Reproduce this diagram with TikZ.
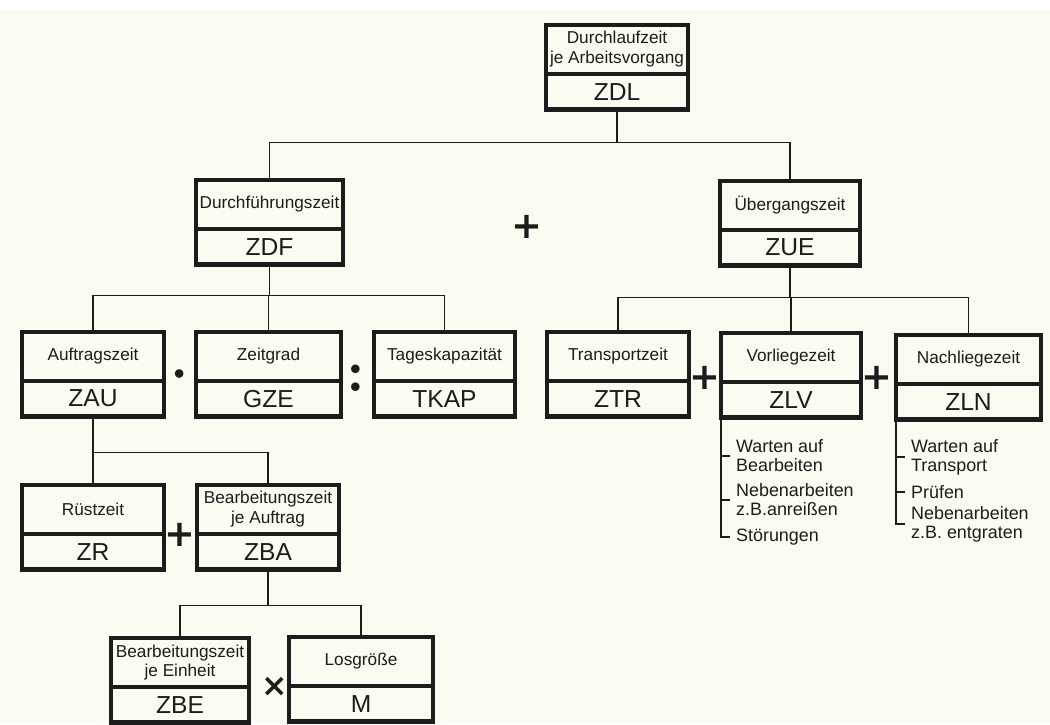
\documentclass[tikz,border=0pt]{standalone}
\usepackage{fontspec}
\setmainfont{Liberation Sans}
\newfontfamily\opfont{DejaVu Sans}
\newfontfamily\dotfont{Latin Modern Roman}
\usepackage{tikz}
\usetikzlibrary{positioning}
\definecolor{paper}{RGB}{252,251,241}
\definecolor{ink}{RGB}{28,28,28}

\begin{document}
\begin{tikzpicture}[x=0.02cm, y=-0.02cm, line width=1pt, color=ink]
    \tikzset{lab/.style={
      draw, rectangle, anchor=north, inner sep=1pt,
      minimum height=0.94cm, align=center,
      font=\fontsize{9.8}{11.2}\selectfont}}
    \tikzset{code/.style={draw, rectangle, inner sep=1pt,
      minimum height=0.68cm, font=\fontsize{14}{14}\selectfont}}
    \tikzset{frame/.style={line width=2.3pt}}
    \tikzset{item/.style={anchor=west, align=left, inner xsep=3pt,
      inner ysep=0pt, font=\fontsize{10.2}{10.8}\selectfont}}
    \tikzset{op/.style={font=\opfont\bfseries\fontsize{21}{21}\selectfont}}
    \tikzset{dots/.style={font=\dotfont\bfseries\fontsize{34}{34}\selectfont}}

    % Paper
    \useasboundingbox (0, 0) rectangle (1050, 724);
    \fill [white] (0, 0) rectangle (1050, 724);
    \fill [paper] (0, 10) rectangle (1050, 724);

    % Boxes: name/x/top/width/label/code
    \foreach \n/\x/\y/\w/\l/\c in {%
        zdl/617/25/140/{Durchlaufzeit\\je Arbeitsvorgang}/ZDL,%
        zdf/269.5/180/145/Durchführungszeit/ZDF,%
        zue/790/181/139/Übergangszeit/ZUE,%
        zau/93/332/140/Auftragszeit/ZAU,%
        gze/268.5/332/143/Zeitgrad/GZE,%
        tkap/444.5/332/139/Tageskapazität/TKAP,%
        ztr/618/332/140/Transportzeit/ZTR,%
        zlv/791/333/138/Vorliegezeit/ZLV,%
        zln/968.5/335/143/Nachliegezeit/ZLN,%
        zr/93/485/141/Rüstzeit/ZR,%
        zba/268/485/141/{Bearbeitungszeit\\je Auftrag}/ZBA,%
        zbe/180/638/136/{Bearbeitungszeit\\je Einheit}/ZBE,%
        m/361/637/142/Losgröße/M%
        } {
      \node [lab, minimum width={\w*0.02cm}] (\n) at (\x, \y) {\l};
      \node [code, minimum width={\w*0.02cm}, below=0pt of \n] (\n-c) {\c};
      \draw [frame] (\n.north west) rectangle (\n-c.south east);
    }

    % Operators
    \node [op] (plus1) at (527, 227) {+};
    \node [dots] (dot1) at (180, 382) {·};
    \node [dots] (colon1) at (356, 378) {:};
    \node [op] (plus2) at (705, 378) {+};
    \node [op] (plus3) at (877, 378) {+};
    \node [op] (plus4) at (180, 535) {+};
    \node [op, font=\opfont\bfseries\fontsize{18}{18}\selectfont]
          (times1) at (275, 687) {×};

    % Lists
    \node [item] (lv1) at (730, 456) {Warten auf\\Bearbeiten};
    \node [item] (lv2) at (730, 500) {Nebenarbeiten\\z.B.anreißen};
    \node [item] (lv3) at (730, 537) {Störungen};
    \node [item] (ln1) at (905, 457) {Warten auf\\Transport};
    \node [item] (ln2) at (905, 492) {Prüfen};
    \node [item] (ln3) at (905, 524) {Nebenarbeiten\\z.B. entgraten};

    % Edges
    \draw (zdl-c.south) -- ++(0, 33) coordinate (b1);
    \draw (zdf.north) |- (b1) -| (zue.north);
    \draw (zdf-c.south) -- ++(0, 31) coordinate (b2);
    \draw (zau.north) |- (b2) -| (tkap.north);
    \draw (gze.north) -- (gze.north |- b2);
    \draw (zue-c.south) -- ++(0, 32) coordinate (b3);
    \draw (ztr.north) |- (b3) -| (zln.north);
    \draw (zlv.north) -- (zlv.north |- b3);
    \draw (zau-c.south) -- ++(0, 36) coordinate (b4);
    \draw (zr.north) |- (b4) -| (zba.north);
    \draw (zba-c.south) -- ++(0, 36) coordinate (b5);
    \draw (zbe.north) |- (b5) -| (m.north);

    \draw (zlv-c.south west) |- (lv3.west);
    \draw (lv1.west) -- (lv1.west -| zlv-c.south west);
    \draw (lv2.west) -- (lv2.west -| zlv-c.south west);
    \draw (zln-c.south west) |- (ln3.west);
    \draw (ln1.west) -- (ln1.west -| zln-c.south west);
    \draw (ln2.west) -- (ln2.west -| zln-c.south west);
  \end{tikzpicture}
\end{document}
